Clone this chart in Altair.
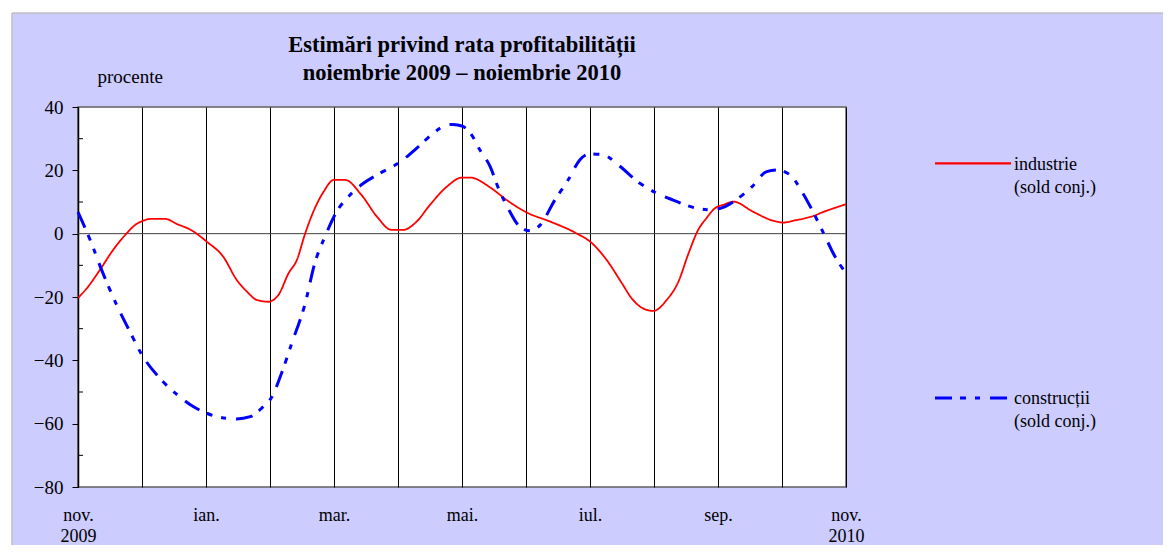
import altair as alt
import pandas as pd

# ---- data (month index: 0 = nov. 2009 ... 12 = nov. 2010) ----
ind_x = [0.00, 0.14, 0.34, 0.55, 0.76, 0.89, 1.02, 1.15, 1.36, 1.54, 1.78, 2.01, 2.27, 2.48, 2.64,
         2.79, 2.97, 3.13, 3.29, 3.42, 3.55, 3.70, 3.83, 4.00, 4.17, 4.43, 4.67, 4.90, 5.08, 5.29,
         5.50, 5.76, 6.00, 6.13, 6.44, 6.70, 7.01, 7.38, 7.77, 8.03, 8.26, 8.50, 8.65, 8.83, 8.99,
         9.20, 9.38, 9.54, 9.69, 9.82, 9.95, 10.08, 10.24, 10.55, 10.86, 11.02, 11.18, 11.49, 11.65,
         11.85, 12.00]
ind_y = [-20.3, -17.2, -11.5, -5.1, 0.1, 2.7, 4.1, 4.7, 4.7, 3.1, 1.0, -2.5, -7.3, -14.6, -18.3,
         -20.9, -21.5, -19.4, -12.5, -8.3, 0.1, 8.0, 13.0, 17.0, 17.0, 12.2, 5.4, 1.2, 1.2, 3.8,
         9.1, 14.8, 17.7, 17.7, 14.6, 10.6, 6.7, 3.8, 0.3, -3.0, -8.3, -15.7, -20.4, -23.6, -24.4,
         -20.9, -15.2, -6.2, 1.2, 4.9, 8.0, 9.1, 10.1, 6.9, 4.1, 3.5, 4.1, 5.6, 6.9,
         8.3, 9.3]

con_x = [0.00, 0.19, 0.37, 0.63, 0.81, 1.00, 1.28, 1.59, 1.80, 2.01, 2.22, 2.48, 2.69, 2.87, 3.03,
         3.18, 3.34, 3.55, 3.70, 3.86, 4.04, 4.25, 4.46, 4.72, 5.00, 5.32, 5.55, 5.76, 5.86, 6.00,
         6.15, 6.28, 6.44, 6.57, 6.72, 6.88, 7.06, 7.22, 7.45, 7.66, 7.84, 8.00, 8.21, 8.44, 8.78,
         9.04, 9.30, 9.61, 9.88, 10.08, 10.24, 10.53, 10.76, 10.92, 11.13, 11.31, 11.47, 11.65,
         11.83, 12.00]
con_y = [6.8, -2.0, -11.5, -23.6, -30.9, -38.3, -45.7, -51.5, -54.6, -56.7, -58.0, -58.5, -57.8,
         -55.1, -51.5, -44.1, -34.6, -22.0, -9.3, -0.9, 6.9, 12.2, 15.9, 19.1, 22.2, 27.5, 31.7,
         34.3, 34.5, 34.0, 31.2, 26.4, 21.2, 14.3, 8.0, 2.7, 0.9, 2.7, 10.6, 17.0, 23.3, 25.2,
         24.9, 21.7, 15.9, 12.8, 10.6, 8.3, 7.5, 8.3, 10.1, 14.8, 19.6, 20.1, 18.5, 13.3, 7.5,
         0.1, -7.3, -12.5]

series_names = ["industrie", "construcții"]
series_colors = ["#FF0000", "#0000FF"]
series_dash = [[1, 0], [17, 8, 6, 9, 5, 10]]
series_width = [1.8, 3.0]
legend_lines = [["industrie", "(sold conj.)"], ["construcții", "(sold conj.)"]]

x_labels = ["nov.|2009", "", "ian.", "", "mar.", "", "mai.", "", "iul.", "", "sep.", "", "nov.|2010"]
y_ticks = [-80, -60, -40, -20, 0, 20, 40]
y_minor = [30, 10, -10, -30, -50, -70]
zero_line = [0]
title_lines = ["Estimări privind rata profitabilității", "noiembrie 2009 – noiembrie 2010"]
y_unit = "procente"

FONT = "Liberation Serif"
W, H = 768, 380

df = pd.concat([
    pd.DataFrame({"luna": ind_x, "val": ind_y, "serie": series_names[0]}),
    pd.DataFrame({"luna": con_x, "val": con_y, "serie": series_names[1]}),
], ignore_index=True)

label_array = "[" + ",".join("'" + s + "'" for s in x_labels) + "]"

x_enc = alt.X("luna:Q", scale=alt.Scale(domain=[0, 12], nice=False, zero=False),
              axis=alt.Axis(values=list(range(13)), grid=True, gridColor="black", gridWidth=1,
                            ticks=False, domain=False, title=None, labelOverlap=False,
                            labelBound=False, labelFlush=False,
                            labelExpr="split(" + label_array + "[datum.value], '|')",
                            labelFont=FONT, labelFontSize=18, labelColor="black",
                            labelPadding=19, labelLineHeight=21))
y_axis = alt.Axis(values=y_ticks, grid=False, tickSize=6, tickColor="black",
                  tickWidth=1, domainColor="black", domainWidth=1.5,
                  labelFont=FONT, labelFontSize=19, labelColor="black",
                  labelPadding=9, title=y_unit, titleAngle=0, titleAlign="left",
                  titleBaseline="alphabetic", titleX=19, titleY=-25,
                  titleFont=FONT, titleFontSize=19, titleFontWeight="normal",
                  titleColor="black")
y_scale = alt.Scale(domain=[-80, 40], nice=False, zero=False)


def y_enc():
    return alt.Y("val:Q", scale=y_scale, axis=y_axis)


lines = alt.Chart(df).mark_line(interpolate="monotone").encode(
    x=x_enc, y=y_enc(),
    color=alt.Color("serie:N", scale=alt.Scale(domain=series_names, range=series_colors), legend=None),
    strokeDash=alt.StrokeDash("serie:N", scale=alt.Scale(domain=series_names, range=series_dash), legend=None),
    strokeWidth=alt.StrokeWidth("serie:N", scale=alt.Scale(domain=series_names, range=series_width), legend=None),
)

zero = alt.Chart(pd.DataFrame({"val": zero_line})).mark_rule(color="#404040", strokeWidth=1).encode(
    y=y_enc())

minor = alt.Chart(pd.DataFrame({"val": y_minor})).mark_rule(color="black", strokeWidth=1).encode(
    y=y_enc(), x=alt.value(0), x2=alt.value(5))

# page frame: white strip + grey border round the lavender panel
one = pd.DataFrame({"k": [0]})
frame = [
    alt.Chart(one).mark_rect(fill="white").encode(x=alt.value(-70), x2=alt.value(1100), y=alt.value(-99), y2=alt.value(-94)),
    alt.Chart(one).mark_rect(fill="white").encode(x=alt.value(-70), x2=alt.value(-66), y=alt.value(-99), y2=alt.value(460)),
    alt.Chart(one).mark_rule(color="#C0C0C0", strokeWidth=1.5).encode(x=alt.value(-66), x2=alt.value(1100), y=alt.value(-94)),
    alt.Chart(one).mark_rule(color="#C0C0C0", strokeWidth=1.5).encode(x=alt.value(-66), y=alt.value(-94), y2=alt.value(460)),
]

# legend
leg_layers = []
leg_pos = [(56.3, 62.5, 86.3), (291.0, 297.0, 320.3)]
for i, name in enumerate(series_names):
    ly, t1, t2 = leg_pos[i]
    leg_layers.append(alt.Chart(one).mark_rule(color=series_colors[i], strokeWidth=2.2 if i == 0 else 3,
                                               strokeDash=series_dash[i]).encode(
        x=alt.value(857), x2=alt.value(933), y=alt.value(ly)))
    leg_layers.append(alt.Chart(one).mark_text(align="left", baseline="alphabetic", font=FONT,
                                               fontSize=18, color="black").encode(
        x=alt.value(936), y=alt.value(t1), text=alt.value(legend_lines[i][0])))
    leg_layers.append(alt.Chart(one).mark_text(align="left", baseline="alphabetic", font=FONT,
                                               fontSize=18, color="black").encode(
        x=alt.value(936), y=alt.value(t2), text=alt.value(legend_lines[i][1])))

chart = alt.layer(*frame, zero, minor, lines, *leg_layers).properties(
    width=W, height=H,
    title=alt.TitleParams(text=title_lines, font=FONT, fontSize=22.5, fontWeight="bold",
                          anchor="middle", frame="group", color="black", baseline="bottom",
                          offset=-99, lineHeight=28),
    background="#CCCCFF",
    padding={"left": 70, "top": 99, "right": 317, "bottom": 58},
    autosize=alt.AutoSizeParams(type="none"),
).configure_view(fill="white", stroke="#606060", strokeWidth=1.5)

chart.save("out.html", embed_options={"renderer": "svg", "actions": False})
